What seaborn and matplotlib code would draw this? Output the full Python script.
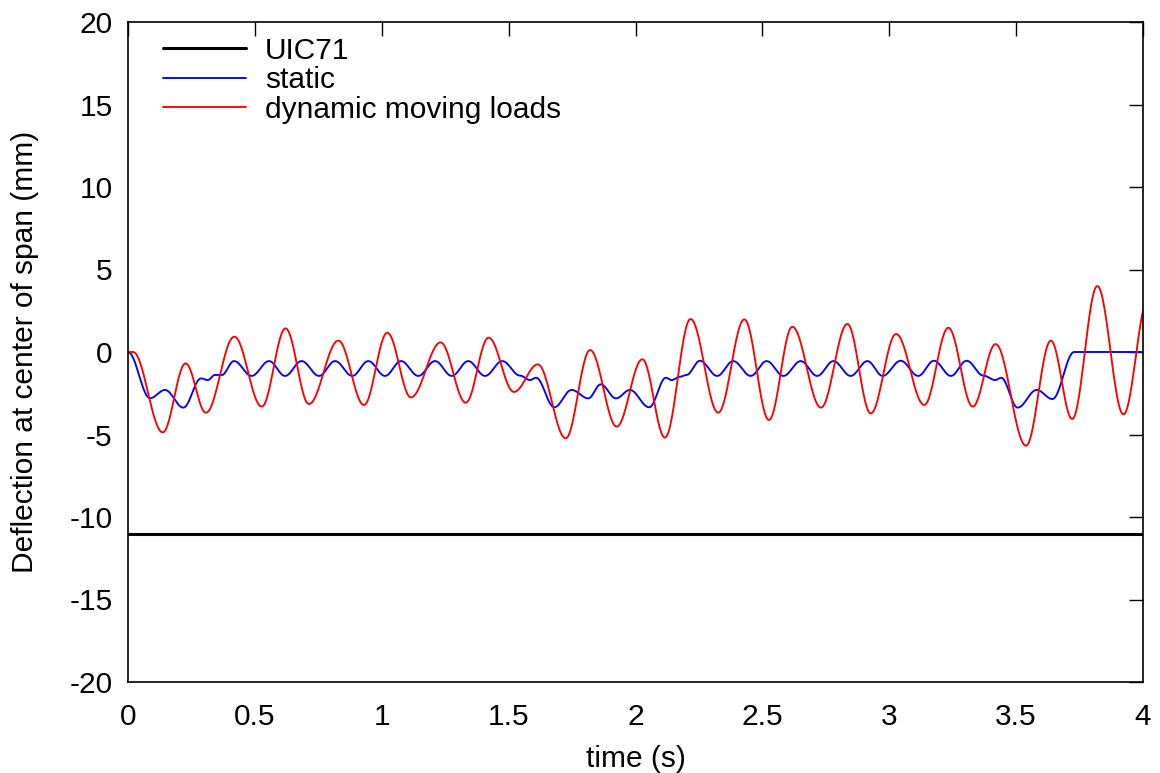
import numpy as np
import pandas as pd
import matplotlib
matplotlib.use("Agg")
import matplotlib.pyplot as plt
from matplotlib.ticker import FuncFormatter
import seaborn as sns

# ---- data (keypoints: extrema / shoulders) ----
uic_t = [0.0, 4.0]
uic_v = [-11.0, -11.0]

static_t = [0.000, 0.087, 0.146, 0.218, 0.288, 0.314, 0.343, 0.369, 0.418,
            0.487, 0.556, 0.619, 0.684, 0.753, 0.816, 0.884, 0.947, 1.013, 1.076,
            1.144, 1.210, 1.276, 1.341, 1.407, 1.475,
            1.545, 1.584, 1.608, 1.680, 1.748, 1.814, 1.863, 1.923, 1.978, 2.054,
            2.120, 2.142, 2.175, 2.201, 2.254,
            2.322, 2.385, 2.454, 2.517, 2.583, 2.651, 2.716, 2.780, 2.848, 2.914,
            2.974, 3.045, 3.114, 3.176, 3.243, 3.305,
            3.371, 3.417, 3.441, 3.506, 3.581, 3.643, 3.729, 4.000]
static_v = [0.00, -2.80, -2.30, -3.37, -1.60, -1.70, -1.39, -1.40, -0.55,
            -1.45, -0.55, -1.45, -0.55, -1.45, -0.55, -1.45, -0.55, -1.45, -0.55,
            -1.45, -0.55, -1.45, -0.55, -1.45, -0.55,
            -1.43, -1.70, -1.56, -3.35, -2.30, -2.81, -1.96, -2.81, -2.30, -3.35,
            -1.56, -1.70, -1.50, -1.39, -0.53,
            -1.45, -0.55, -1.45, -0.55, -1.45, -0.55, -1.45, -0.55, -1.45, -0.55,
            -1.45, -0.53, -1.45, -0.53, -1.45, -0.53,
            -1.43, -1.70, -1.56, -3.37, -2.30, -2.85, 0.00, 0.00]

dynamic_t = [0.000, 0.020, 0.137, 0.227, 0.307, 0.419, 0.527, 0.621, 0.713, 0.829,
             0.930, 1.022, 1.115, 1.232, 1.331, 1.421, 1.521, 1.615, 1.725, 1.821,
             1.926, 2.027, 2.116, 2.217, 2.326, 2.429, 2.526, 2.618, 2.731, 2.835,
             2.927, 3.027, 3.138, 3.233, 3.329, 3.419, 3.539, 3.637, 3.721, 3.820,
             3.923, 4.020]
dynamic_v = [0.00, 0.00, -4.87, -0.69, -3.68, 0.93, -3.31, 1.43, -3.15, 0.69,
             -3.21, 1.17, -2.75, 0.58, -3.07, 0.87, -2.42, -0.75, -5.23, 0.12,
             -4.52, -0.44, -5.19, 2.00, -3.68, 1.98, -4.12, 1.53, -3.37, 1.70,
             -3.72, 1.09, -3.21, 1.47, -3.31, 0.48, -5.68, 0.69, -4.06, 4.00,
             -3.78, 3.20]

x_ticks = [0, 0.5, 1, 1.5, 2, 2.5, 3, 3.5, 4]
y_ticks = [-20, -15, -10, -5, 0, 5, 10, 15, 20]


def smooth(t, v, n=30):
    """Smooth drawing path between read keypoints (half-cosine easing)."""
    tt, vv = [t[0]], [v[0]]
    s = np.linspace(0, 1, n)[1:]
    for i in range(len(t) - 1):
        tt.extend(t[i] + (t[i + 1] - t[i]) * s)
        vv.extend(v[i] + (v[i + 1] - v[i]) * (1 - np.cos(np.pi * s)) / 2)
    return pd.DataFrame({"t": tt, "v": vv})


sns.set_style("white")
plt.rcParams["font.family"] = ["Liberation Sans", "DejaVu Sans"]
plt.rcParams["axes.unicode_minus"] = False
plt.rcParams["text.color"] = "black"
plt.rcParams["axes.labelcolor"] = "black"

FS = 21.5

fig = plt.figure(figsize=(11.6, 7.73), dpi=100)
ax = fig.add_axes([128 / 1160, 1 - 682 / 773, 1015 / 1160, 660 / 773])

sns.lineplot(data=pd.DataFrame({"t": uic_t, "v": uic_v}), x="t", y="v", ax=ax,
             color="black", lw=2.2, label="UIC71", estimator=None, sort=False)
sns.lineplot(data=smooth(static_t, static_v), x="t", y="v", ax=ax,
             color="#0000ff", lw=1.35, label="static", estimator=None, sort=False)
sns.lineplot(data=smooth(dynamic_t, dynamic_v), x="t", y="v", ax=ax,
             color="#ff0000", lw=1.35, label="dynamic moving loads", estimator=None, sort=False)

ax.set_xlim(0, 4)
ax.set_ylim(-20, 20)
ax.set_xticks(x_ticks)
ax.set_yticks(y_ticks)
fmt = FuncFormatter(lambda x, p: "%g" % x)
ax.xaxis.set_major_formatter(fmt)
ax.yaxis.set_major_formatter(fmt)
ax.tick_params(direction="in", length=10, width=1, top=True, right=True,
               labelsize=FS, colors="black")
ax.tick_params(axis="x", pad=15)
ax.tick_params(axis="y", pad=11)
for sp in ax.spines.values():
    sp.set_visible(True)
    sp.set_color("black")
    sp.set_linewidth(1.2)

ax.set_xlabel("time (s)", fontsize=FS, labelpad=10, color="black")
ax.set_ylabel("Deflection at center of span (mm)", fontsize=FS, labelpad=22, color="black")

leg = ax.legend(loc="upper left", bbox_to_anchor=(0.0345, 0.978), frameon=False,
                fontsize=FS, handlelength=2.78, handletextpad=0.64, labelspacing=0.05,
                borderpad=0, borderaxespad=0)
for txt in leg.get_texts():
    txt.set_color("black")

fig.savefig("out.png", dpi=100)
